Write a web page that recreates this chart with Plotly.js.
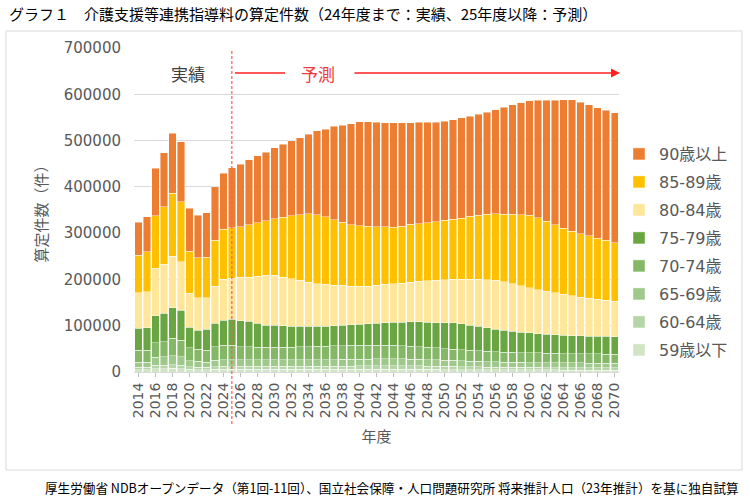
<!DOCTYPE html>
<html>
<head>
<meta charset="utf-8">
<script src="https://cdn.plot.ly/plotly-3.0.1.min.js"></script>
<style>
html,body{margin:0;padding:0;background:#ffffff;}
#chart{width:750px;height:499px;}
</style>
</head>
<body>
<div id="chart"></div>
<script>
// ---- categories ----
const years = ['2014','2015','2016','2017','2018','2019','2020','2021','2022','2023','2024','2025',
  '2026','2027','2028','2029','2030','2031','2032','2033','2034','2035','2036','2037','2038','2039',
  '2040','2041','2042','2043','2044','2045','2046','2047','2048','2049','2050','2051','2052','2053',
  '2054','2055','2056','2057','2058','2059','2060','2061','2062','2063','2064','2065','2066','2067',
  '2068','2069','2070'];
const tickYears = ['2014','2016','2018','2020','2022','2024','2026','2028','2030','2032','2034','2036',
  '2038','2040','2042','2044','2046','2048','2050','2052','2054','2056','2058','2060','2062','2064',
  '2066','2068','2070'];
const yTicks = [0,100000,200000,300000,400000,500000,600000,700000];
const forecastStart = '2025';

// ---- series values (件) ----
const age90 = [71000,76000,102000,117000,130000,130000,92000,92000,96000,115000,121000,130000,
  135300,139700,144700,147600,152700,157700,162000,167000,172200,180900,189500,201400,209700,217600,
  224600,225400,226100,224700,225400,223300,219600,218800,217300,215500,213900,215300,216800,216600,
  217500,219700,224600,231100,236900,242000,247100,254200,261300,269300,277300,284400,284500,283000,
  282300,280800,279900];
const age85 = [81400,86400,113700,123800,135400,129600,91400,86400,87200,99300,107300,108700,
  109500,113800,116000,118800,122400,129600,136100,141900,148100,149500,145900,141400,136600,133100,
  131000,129600,126700,124500,122400,123100,125300,124600,125400,126800,128100,129600,131700,135400,
  138900,141700,144100,146100,149800,153300,156900,154700,151200,146000,143200,139800,136700,134600,
  131700,129600,126800];
const age80 = [76900,77700,102400,106600,111700,104400,73500,69800,68300,80600,89200,89200,
  93600,95100,101500,107300,108700,105100,102300,98700,95000,92100,90700,87800,86400,83400,
  81500,81200,81400,82800,83500,84200,84900,87600,90000,91700,92900,93600,96400,99400,
  101500,103700,105200,104400,102300,100300,98000,95000,92900,90800,88600,85600,83600,81700,
  79900,78000,76300];
const age75 = [46900,48300,58200,61200,66100,64800,44000,41000,44700,50500,54000,55500,
  56300,55300,51500,47700,47000,46300,45000,44500,43400,42900,42400,43300,43500,44700,
  45800,46500,47700,48500,49500,50700,52500,53000,53500,54000,55800,57300,56400,54700,
  52900,51000,49000,47600,46000,44400,42900,42000,40900,40600,39400,39000,38500,38500,
  38500,38400,38200];
const age70 = [26000,26000,32000,33000,38000,36000,28000,27000,26000,29000,31000,32000,
  28000,27800,27500,27200,27300,27400,27800,28200,28600,29000,29400,29700,30000,30100,
  30000,29900,29700,29500,29200,28800,28100,27500,26600,25800,25000,24300,23800,23200,
  22800,22400,22000,21700,21500,21200,20900,20700,20500,20300,20200,20100,19900,19800,
  19600,19500,19400];
const age65 = [11000,11000,17000,17500,19000,18000,13000,12000,11500,14000,14500,14500,
  14000,13900,13800,13700,13600,13500,13600,13700,13800,13900,14000,14200,14300,14400,
  14600,14800,15000,15100,15100,15000,14800,14500,14200,13800,13400,13000,12600,12200,
  11900,11600,11300,11100,10900,10800,10700,10600,10500,10400,10300,10200,10200,10100,
  10100,10000,10000];
const age60 = [5500,5500,7400,7500,8000,7600,6000,5700,5300,6200,6500,6300,
  6800,6800,6800,6800,6800,6800,6800,6800,6800,6900,6900,6900,7000,7100,
  7200,7300,7400,7500,7500,7500,7400,7400,7200,7000,6800,6600,6400,6200,
  6000,5900,5700,5600,5500,5400,5300,5300,5200,5200,5100,5100,5000,5000,
  5000,4900,4900];
const age59 = [5000,5000,7000,7500,7800,7500,5500,5000,4700,5500,5700,5500,
  5800,5800,5800,5800,5800,5800,5800,5800,5800,5800,5800,5800,5800,5800,
  5800,5800,5800,5800,5800,5800,5800,5700,5600,5500,5400,5300,5200,5100,
  5000,4900,4800,4700,4600,4600,4500,4500,4400,4400,4300,4300,4300,4200,
  4200,4200,4100];

const seriesNames = ['59歳以下','60-64歳','65-69歳','70-74歳','75-79歳','80-84歳','85-89歳','90歳以上'];
const seriesValues = [age59, age60, age65, age70, age75, age80, age85, age90];
const seriesColors = ['#D0E4C6','#B6D5A6','#9FC88B','#84B866','#69A541','#FFE699','#FFC000','#ED7D31'];

const FONT = 'DejaVu Sans, Noto Sans CJK JP, sans-serif';
const JFONT = 'Noto Sans CJK JP, sans-serif';
const GREY = '#595959';

const traces = seriesNames.map((name, i) => ({
  type: 'bar',
  name: name,
  x: years,
  y: seriesValues[i],
  legendgroup: 'g' + i,
  legendrank: 1000 - i,
  marker: { color: seriesColors[i], line: { color: 'rgba(255,255,255,0.55)', width: 0.8 } },
  hovertemplate: '%{x}: %{y}<extra>' + name + '</extra>'
}));

// plot-area geometry helpers (paper coordinates)
const L = 134, R = 619, T = 48, B = 372;
const px = v => (v - L) / (R - L);
const py = v => (B - v) / (B - T);

const layout = {
  width: 750, height: 499,
  margin: { l: L, r: 750 - R, t: T, b: 499 - B, pad: 0 },
  paper_bgcolor: '#ffffff', plot_bgcolor: '#ffffff',
  barmode: 'stack', bargap: 0.12,
  font: { family: FONT, color: GREY },
  title: {
    text: 'グラフ１　介護支援等連携指導料の算定件数（24年度まで：実績、25年度以降：予測）',
    font: { family: JFONT, size: 15, color: '#000000' },
    x: 9 / 750, xref: 'container', xanchor: 'left',
    y: 1 - 15 / 499, yref: 'container', yanchor: 'middle'
  },
  xaxis: {
    type: 'category',
    categoryorder: 'array', categoryarray: years,
    tickmode: 'array', tickvals: tickYears, ticktext: tickYears,
    tickangle: -90,
    tickfont: { family: FONT, size: 14, color: GREY },
    ticks: 'outside', ticklen: 4, tickcolor: '#BFBFBF',
    showline: true, linecolor: '#D9D9D9', linewidth: 1,
    showgrid: false, zeroline: false,
    automargin: false,
    title: { text: '年度', font: { family: JFONT, size: 15, color: GREY }, standoff: 14 }
  },
  yaxis: {
    range: [0, 700000],
    tickmode: 'array', tickvals: yTicks,
    tickformat: 'd',
    tickfont: { family: FONT, size: 15, color: GREY },
    ticklabelstandoff: 12,
    showgrid: true, gridcolor: '#D9D9D9', gridwidth: 1,
    zeroline: false, showline: false,
    automargin: false,
    title: { text: '算定件数（件）', font: { family: JFONT, size: 15, color: GREY }, standoff: 12 }
  },
  legend: {
    x: px(619), xanchor: 'left',
    y: py(137), yanchor: 'top',
    traceorder: 'grouped',
    tracegroupgap: 4.2,
    font: { family: FONT, size: 16, color: GREY },
    bgcolor: 'rgba(0,0,0,0)'
  },
  shapes: [
    // outer frame
    { type: 'rect', xref: 'paper', yref: 'paper', x0: px(6), x1: px(742), y0: py(470), y1: py(31),
      line: { color: '#D9D9D9', width: 1 }, layer: 'below' },
    // forecast boundary (dashed)
    { type: 'line', xref: 'x', yref: 'paper', x0: years.indexOf(forecastStart), x1: years.indexOf(forecastStart),
      y0: py(424), y1: py(50), line: { color: '#FF5A5A', width: 1.2, dash: '3px,2px' } },
    // red line before 予測
    { type: 'line', xref: 'paper', yref: 'paper', x0: px(235), x1: px(285), y0: py(73), y1: py(73),
      line: { color: '#FF2020', width: 1.5 } }
  ],
  annotations: [
    { text: '実績', xref: 'paper', yref: 'paper', x: px(188), y: py(73), showarrow: false,
      font: { family: JFONT, size: 17, color: '#404040' }, xanchor: 'center', yanchor: 'middle' },
    { text: '予測', xref: 'paper', yref: 'paper', x: px(318), y: py(73), showarrow: false,
      font: { family: JFONT, size: 17, color: '#F03C3C' }, xanchor: 'center', yanchor: 'middle' },
    { text: '', xref: 'paper', yref: 'paper', x: px(620), y: py(73), ax: px(353), ay: py(73),
      axref: 'paper', ayref: 'paper', showarrow: true, arrowhead: 2, arrowsize: 1.2, arrowwidth: 1.5,
      arrowcolor: '#FF2020', standoff: 0 },
    { text: '厚生労働省 NDBオープンデータ（第1回-11回）、国立社会保障・人口問題研究所 将来推計人口（23年推計）を基に独自試算',
      xref: 'paper', yref: 'paper', x: px(741), y: py(487), xanchor: 'right', yanchor: 'middle',
      showarrow: false, font: { family: JFONT, size: 12.6, color: '#000000' } }
  ]
};

Plotly.newPlot('chart', traces, layout, { displayModeBar: false, staticPlot: true });
</script>
</body>
</html>
